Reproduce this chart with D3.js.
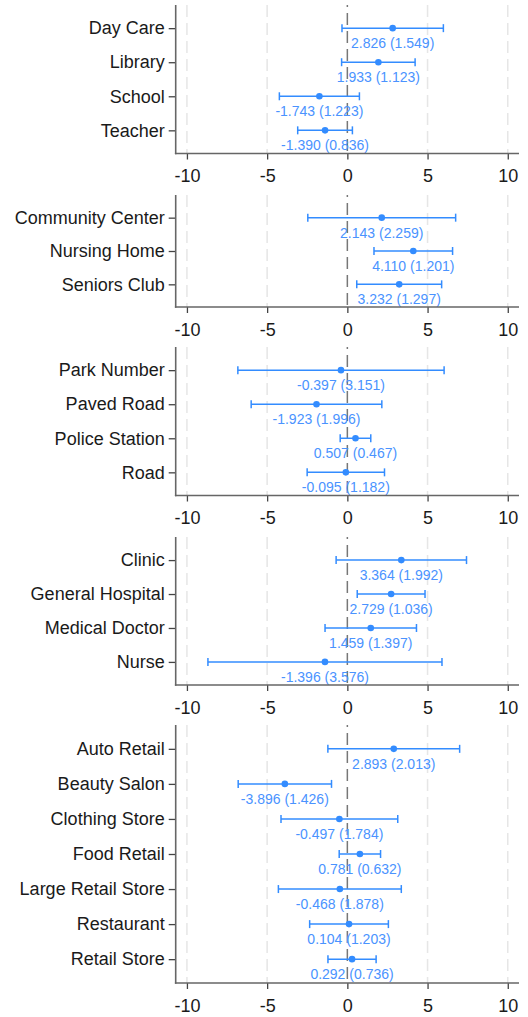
<!DOCTYPE html>
<html><head><meta charset="utf-8">
<script src="https://cdn.jsdelivr.net/npm/d3@7"></script>
<style>html,body{margin:0;padding:0;background:#fff;}svg{display:block;}</style>
</head><body>
<svg id="chart" width="528" height="1017"></svg>
<script>
// Panel groups
const panel1 = ["Day Care", "Library", "School", "Teacher"];
const panel2 = ["Community Center", "Nursing Home", "Seniors Club"];
const panel3 = ["Park Number", "Paved Road", "Police Station", "Road"];
const panel4 = ["Clinic", "General Hospital", "Medical Doctor", "Nurse"];
const panel5 = ["Auto Retail", "Beauty Salon", "Clothing Store", "Food Retail", "Large Retail Store", "Restaurant", "Retail Store"];

// Estimates and standard errors (as labelled)
const est1 = [2.826, 1.933, -1.743, -1.390];
const se1  = [1.549, 1.123, 1.223, 0.836];
const est2 = [2.143, 4.110, 3.232];
const se2  = [2.259, 1.201, 1.297];
const est3 = [-0.397, -1.923, 0.507, -0.095];
const se3  = [3.151, 1.996, 0.467, 1.182];
const est4 = [3.364, 2.729, 1.459, -1.396];
const se4  = [1.992, 1.036, 1.397, 3.576];
const est5 = [2.893, -3.896, -0.497, 0.781, -0.468, 0.104, 0.292];
const se5  = [2.013, 1.426, 1.784, 0.632, 1.878, 1.203, 0.736];

// Confidence interval bounds
const lo1 = [-0.334, -0.358, -4.238, -3.095];
const hi1 = [5.986, 4.224, 0.752, 0.315];
const lo2 = [-2.465, 1.660, 0.586];
const hi2 = [6.751, 6.560, 5.878];
const lo3 = [-6.825, -5.995, -0.446, -2.506];
const hi3 = [6.031, 2.149, 1.460, 2.316];
const lo4 = [-0.700, 0.616, -1.391, -8.691];
const hi4 = [7.428, 4.842, 4.309, 5.899];
const lo5 = [-1.214, -6.805, -4.136, -0.508, -4.299, -2.350, -1.209];
const hi5 = [7.000, -0.987, 3.142, 2.070, 3.363, 2.558, 1.793];

const xTicks = [-10, -5, 0, 5, 10];
const xDomain = [-10.7, 10.7];

const panels = [
  {cats: panel1, est: est1, se: se1, lo: lo1, hi: hi1, top: 5,   bottom: 153.5},
  {cats: panel2, est: est2, se: se2, lo: lo2, hi: hi2, top: 195, bottom: 307},
  {cats: panel3, est: est3, se: se3, lo: lo3, hi: hi3, top: 347, bottom: 495.5},
  {cats: panel4, est: est4, se: se4, lo: lo4, hi: hi4, top: 537, bottom: 685},
  {cats: panel5, est: est5, se: se5, lo: lo5, hi: hi5, top: 725, bottom: 983}
];

const svg = d3.select("#chart");
const FONT = "'Liberation Sans', Arial, Helvetica, sans-serif";
const BLUE = "#338cff";
const AXIS = "#666";
const x = d3.scaleLinear().domain(xDomain).range([175.7, 519]);

panels.forEach(p => {
  const y = d3.scalePoint().domain(p.cats).range([p.top, p.bottom]).padding(0.68);
  const g = svg.append("g");

  // grid lines
  g.selectAll("line.grid").data(xTicks.filter(t => t !== 0)).enter().append("line")
    .attr("x1", d => x(d)).attr("x2", d => x(d))
    .attr("y1", p.top).attr("y2", p.bottom)
    .attr("stroke", "#e6e6e6").attr("stroke-width", 1.5)
    .attr("stroke-dasharray", "12,6");
  // zero reference line
  g.append("line")
    .attr("x1", x(0)).attr("x2", x(0))
    .attr("y1", p.top).attr("y2", p.bottom)
    .attr("stroke", "#777").attr("stroke-width", 1.5)
    .attr("stroke-dasharray", "12,6").attr("stroke-dashoffset", 10);

  const rows = p.cats.map((c, i) => ({c, e: p.est[i], s: p.se[i], lo: p.lo[i], hi: p.hi[i]}));

  // CI lines
  g.selectAll("line.ci").data(rows).enter().append("line")
    .attr("x1", d => x(d.lo)).attr("x2", d => x(d.hi))
    .attr("y1", d => y(d.c)).attr("y2", d => y(d.c))
    .attr("stroke", BLUE).attr("stroke-width", 1.5);
  // caps
  ["lo", "hi"].forEach(k => {
    g.selectAll("line.cap" + k).data(rows).enter().append("line")
      .attr("x1", d => x(d[k])).attr("x2", d => x(d[k]))
      .attr("y1", d => y(d.c) - 4).attr("y2", d => y(d.c) + 4)
      .attr("stroke", BLUE).attr("stroke-width", 1.5);
  });
  // points
  g.selectAll("circle").data(rows).enter().append("circle")
    .attr("cx", d => x(d.e)).attr("cy", d => y(d.c)).attr("r", 3.3)
    .attr("fill", BLUE);
  // value labels
  g.selectAll("text.val").data(rows).enter().append("text")
    .attr("x", d => x(d.e)).attr("y", d => y(d.c) + 20)
    .attr("text-anchor", "middle")
    .attr("font-family", FONT).attr("font-size", 14)
    .attr("fill", "#4a93ff")
    .text(d => d.e.toFixed(3) + " (" + d.s.toFixed(3) + ")");

  // y axis
  const ya = g.append("g").attr("transform", `translate(${x.range()[0]},0)`)
    .call(d3.axisLeft(y).tickSize(7).tickPadding(4).tickSizeOuter(0));
  ya.select(".domain").remove();
  ya.selectAll(".tick line").attr("stroke", "#444").attr("stroke-width", 1.3);
  ya.selectAll(".tick text").attr("font-family", FONT).attr("font-size", 18)
    .attr("fill", "#1a1a1a");
  g.append("line").attr("x1", x.range()[0]).attr("x2", x.range()[0])
    .attr("y1", p.top).attr("y2", p.bottom + 0.75)
    .attr("stroke", AXIS).attr("stroke-width", 1.6);

  // x axis
  const xa = g.append("g").attr("transform", `translate(0,${p.bottom})`)
    .call(d3.axisBottom(x).tickValues(xTicks).tickSize(6).tickPadding(10).tickSizeOuter(0)
      .tickFormat(d3.format("d")));
  xa.select(".domain").remove();
  xa.selectAll(".tick line").attr("stroke", "#444").attr("stroke-width", 1.3);
  xa.selectAll(".tick text").attr("font-family", FONT).attr("font-size", 18)
    .attr("fill", "#1a1a1a").text(d => d < 0 ? "-" + Math.abs(d) : d);
  g.append("line").attr("x1", x.range()[0] - 0.8).attr("x2", x.range()[1])
    .attr("y1", p.bottom).attr("y2", p.bottom)
    .attr("stroke", AXIS).attr("stroke-width", 1.6);
});
</script>
</body></html>
